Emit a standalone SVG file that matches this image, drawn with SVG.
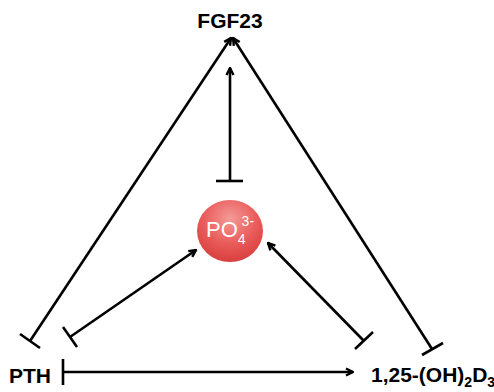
<svg xmlns="http://www.w3.org/2000/svg" width="494" height="392" viewBox="0 0 494 392">
<style>
.lbl{font-family:"Liberation Sans",Arial,sans-serif;font-weight:bold;font-size:21px;fill:#000}
.po{font-family:"Liberation Sans",Arial,sans-serif;font-size:22px;fill:#fff}
.ln{stroke:#000;stroke-width:2.6;fill:none}
</style>
<defs>
<marker id="ah" viewBox="0 0 10 10" refX="9" refY="5" markerWidth="10" markerHeight="10" orient="auto" markerUnits="userSpaceOnUse">
<path d="M2,1.5 L9,5 L2,8.5" fill="none" stroke="#000" stroke-width="2.4"/>
</marker>
<radialGradient id="rg" cx="50%" cy="30%" r="70%">
<stop offset="0" stop-color="#f49a98"/>
<stop offset="0.6" stop-color="#e85a58"/>
<stop offset="1" stop-color="#d8403e"/>
</radialGradient>
</defs>
<g id="connectors">
<line class="ln" x1="30" y1="341" x2="231" y2="38" marker-end="url(#ah)"/>
<line class="ln" x1="20" y1="334" x2="40" y2="348"/>
<line class="ln" x1="432" y1="349" x2="233" y2="38" marker-end="url(#ah)"/>
<line class="ln" x1="422" y1="355" x2="443" y2="343"/>
<line class="ln" x1="230" y1="181" x2="230" y2="68" marker-end="url(#ah)"/>
<line class="ln" x1="216" y1="181" x2="243" y2="181"/>
<line class="ln" x1="70" y1="337" x2="196" y2="250" marker-end="url(#ah)"/>
<line class="ln" x1="63" y1="327" x2="77" y2="347"/>
<line class="ln" x1="364" y1="341" x2="268" y2="243" marker-end="url(#ah)"/>
<line class="ln" x1="355" y1="349" x2="373" y2="332"/>
<line class="ln" x1="63" y1="372" x2="353" y2="372" marker-end="url(#ah)"/>
<line class="ln" x1="63" y1="359" x2="63" y2="385"/>
</g>
<g id="FGF23"><text class="lbl" x="230" y="28" text-anchor="middle">FGF23</text></g>
<g id="PTH"><text class="lbl" x="9" y="383">PTH</text></g>
<g id="D3"><text class="lbl" x="371" y="382">1,25-(OH)<tspan font-size="14" dy="5">2</tspan><tspan dy="-5">D</tspan><tspan font-size="14" dy="5">3</tspan></text></g>
<g id="PO4">
<ellipse cx="230" cy="231" rx="33" ry="31" fill="url(#rg)"/>
<text class="po" x="206" y="237">PO<tspan font-size="14" dy="7">4</tspan><tspan font-size="14" dx="-4" dy="-18">3-</tspan></text>
</g>
</svg>
